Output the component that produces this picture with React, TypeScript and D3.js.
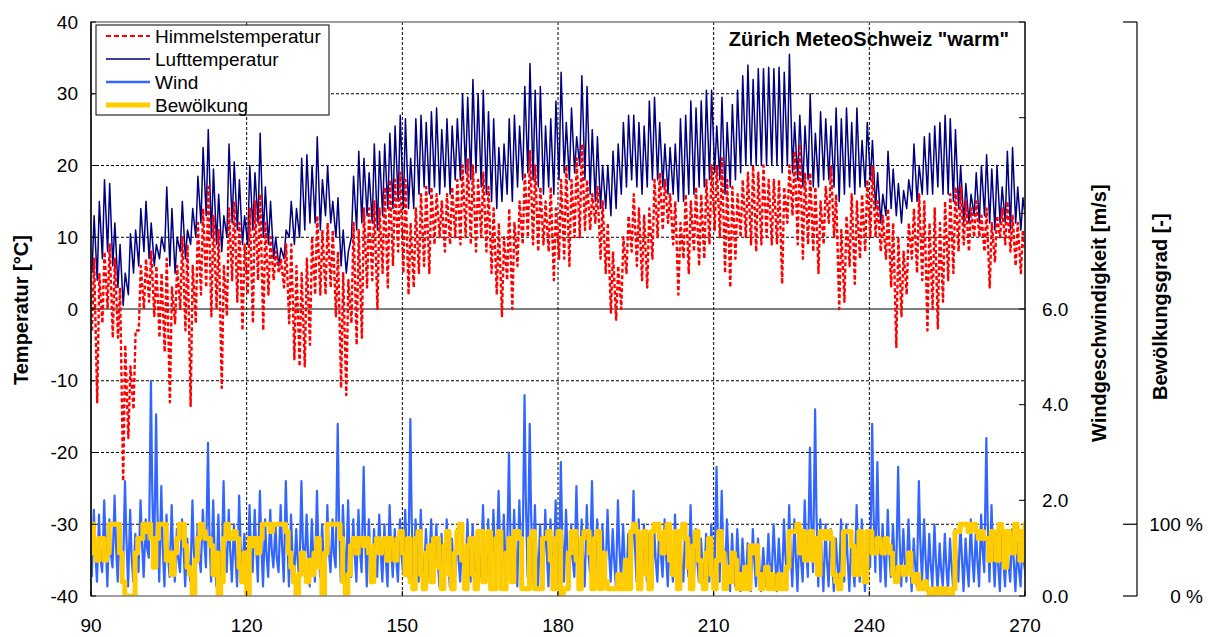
import React from "react";
import * as d3 from "d3";

// ---------- data (one value per day, day 90 .. 270) ----------
const START_DAY = 90;
const xTicks = [90, 120, 150, 180, 210, 240, 270];
const tempTicks = [-40, -30, -20, -10, 0, 10, 20, 30, 40];
const windTicks = [0, 2, 4, 6, 8, 10, 12];
const windLabelTicks = [0, 2, 4, 6];
const cloudLabelTicks = [0, 1];

const airMax = [
  13, 15, 18, 17.5, 12, 9, 5, 10.5, 11, 14, 15, 12, 9, 10, 17, 14, 10, 15, 11, 14, 18.5, 22.5, 25, 19.5, 16, 13, 23, 20.5, 18, 13, 20,
  19, 24.5, 17, 15, 10, 8.5, 11, 15, 14, 21, 21.5, 20, 24, 18, 20, 15, 15.5, 11, 8, 18.5, 22, 21, 19, 23, 22, 23, 24.5, 25.5, 27, 26.5,
  21, 26.5, 27, 26, 27.5, 28, 25, 26.5, 25.5, 26.5, 30, 29.5, 32, 30, 30.5, 27.5, 26.5, 22.5, 23, 26.5, 27, 25.5, 31, 34.2, 30.5, 31, 25.5, 26.5, 29, 33,
  26, 28, 24, 32.5, 31, 25, 24, 20, 20, 22, 23, 26, 27, 27, 26, 25.5, 29, 29.5, 26, 23, 22.5, 23, 26.5, 27, 29, 28, 29, 30.5, 30.5, 25.5,
  29.5, 26, 28.5, 30.5, 32.5, 34, 32, 33.5, 33.5, 33.7, 33.5, 33.7, 33, 35.5, 26, 27, 25.5, 30, 24.5, 27.5, 26.5, 25.5, 28, 26.5, 28, 26, 28, 23.5, 26, 23.5,
  19, 16, 22, 19.5, 17.5, 16.5, 18, 23, 20, 24, 24.5, 25.5, 26, 27, 26.5, 25, 20, 17.5, 16, 19, 20, 21.5, 19.5, 20, 17, 22, 22.5, 17, 15.5, 18.5,
];
const airMin = [
  5, 4, 7, 8, 6, 3, 0.5, 2, 5, 6, 8, 7, 6, 7, 8, 6, 5, 8, 7, 9, 10, 12, 13, 10, 9, 8, 10, 12, 11, 9, 9,
  11, 12, 10, 9, 7, 6, 7, 10, 9, 10, 11, 12, 12, 11, 13, 12, 10, 6, 5, 10, 11, 12, 13, 12, 11, 13, 14, 14, 15, 14,
  14, 14, 16, 17, 16, 17, 16, 17, 16, 18, 18, 19, 18, 19, 17, 16, 15, 14, 15, 16, 15, 17, 18, 19, 18, 17, 16, 17, 16, 18,
  19, 18, 19, 20, 18, 16, 15, 14, 14, 13, 14, 16, 17, 18, 17, 16, 17, 18, 18, 17, 16, 16, 15, 15, 16, 16, 17, 17, 18, 19,
  18, 16, 17, 18, 19, 20, 20, 20, 20, 20, 20, 20, 19, 20, 19, 18, 17, 18, 17, 17, 18, 18, 17, 15, 16, 17, 16, 17, 17, 18,
  14, 12, 13, 14, 13, 12, 14, 15, 15, 16, 16, 16, 17, 16, 16, 15, 14, 12, 12, 13, 12, 13, 12, 11, 12, 12, 11, 12, 11, 12,
];
const skyMax = [
  7, 5, 8, 9, 7, 3, -5, -8, -3, 6, 7, 8, 6, 5, 7, 3, 6, 10, 9, 6, 12, 14, 17, 13, 11, 6, 14, 15, 12, 9, 14,
  15, 16, 12, 10, 8, 7, 9, 9, 6, 5, 7, 10, 13, 11, 12, 11, 8, 5, 4, 12, 11, 14, 14, 15, 14, 17, 18, 18, 19, 18,
  12, 14, 16, 17, 17, 16, 15, 16, 17, 18, 20, 21, 20, 18, 19, 17, 14, 12, 10, 14, 12, 15, 19, 22, 20, 17, 15, 17, 14, 18,
  20, 18, 21, 23, 18, 16, 17, 15, 12, 8, 6, 10, 13, 16, 14, 13, 14, 18, 19, 18, 16, 15, 12, 16, 15, 17, 16, 18, 20, 20,
  21, 18, 17, 16, 18, 19, 20, 19, 20, 18, 18, 18, 17, 20, 22, 23, 19, 19, 17, 15, 17, 20, 16, 11, 13, 16, 15, 16, 18, 20,
  15, 13, 14, 12, 10, 8, 12, 14, 16, 15, 12, 14, 12, 15, 16, 17, 17, 15, 14, 15, 13, 14, 12, 13, 14, 15, 13, 12, 11, 12,
];
const skyMin = [
  -3, -13, -2, 0, -4, -4, -24, -18, -14, -3, 0, 1, -1, -4, -6, -13, -2, 0, -3, -13.5, -2, 2, 3, -1, 0, -11, -1, 4, 1, -3, 2,
  -2, 4, -3, 2, 4, 5, 3, -2, -7, -8, -8, -5, 2, 2, 2, 3, -1, -11, -12, -2, -5, -4, 3, 4, 0, 5, 3, 6, 8, 5,
  2, 3, 5, 6, 5, 9, 10, 8, 9, 10, 9, 10, 9, 8, 10, 8, 5, 2, -1, 4, 0, 6, 9, 10, 9, 8, 9, 8, 4, 7,
  7, 6, 10, 10, 11, 11, 12, 7, 5, -0.5, -1.5, 0, 5, 8, 6, 4, 3, 7, 10, 11, 12, 9, 2, 7, 5, 8, 6, 7, 9, 11,
  10, 5, 3, 7, 10, 10, 9, 8, 9, 10, 9, 9, 3.5, 12, 13, 9, 7, 9, 8, 5, 9, 12, 10, 0, 1, 6, 3.5, 7, 8, 10,
  10, 8, 7, 3, -5.3, -1, 2, 7, 5, 4, -3, 0, -2.7, 1, 4, 5, 8, 9, 8, 10, 10, 8, 3, 6.5, 10, 9, 8, 6, 5, 7,
];
const windHi = [
  1.8, 1.7, 2.0, 1.6, 2.1, 1.5, 2.4, 1.8, 1.3, 2.0, 1.6, 4.5, 3.8, 2.3, 1.7, 1.9, 1.4, 1.6, 1.2, 2.0, 1.5, 1.8, 3.2, 2.0, 1.7, 2.4, 1.8, 1.5, 2.1, 1.3, 1.9,
  1.8, 2.2, 1.6, 1.8, 1.5, 1.9, 2.4, 1.7, 1.4, 2.4, 1.7, 1.6, 2.2, 1.5, 1.9, 1.6, 3.6, 1.9, 2.0, 1.6, 1.8, 2.7, 1.6, 1.4, 1.7, 1.5, 1.9, 1.4, 1.6, 1.8,
  3.7, 1.6, 1.8, 1.4, 1.6, 1.5, 1.3, 1.6, 1.2, 1.4, 1.3, 1.6, 1.5, 1.2, 1.9, 1.6, 1.8, 2.2, 1.7, 3.0, 1.8, 2.0, 4.2, 3.6, 1.9, 1.5, 1.8, 1.6, 2.0, 2.8,
  1.8, 1.5, 2.3, 1.6, 1.9, 2.4, 1.6, 1.5, 1.8, 1.4, 2.0, 1.5, 1.3, 2.2, 1.6, 1.5, 1.3, 1.4, 1.5, 1.6, 1.2, 1.7, 1.3, 1.5, 1.9, 1.4, 1.2, 1.3, 1.5, 2.7,
  2.2, 1.6, 1.3, 1.4, 1.2, 1.1, 1.4, 1.2, 1.0, 1.3, 1.5, 1.2, 1.6, 1.9, 1.6, 1.5, 2.0, 3.1, 3.9, 1.6, 1.5, 1.4, 1.2, 1.6, 1.5, 1.3, 1.9, 1.6, 1.3, 3.6,
  2.8, 1.5, 1.8, 1.5, 2.7, 1.4, 1.6, 1.2, 2.4, 1.6, 1.3, 1.5, 1.1, 1.3, 1.2, 1.4, 1.5, 1.2, 1.6, 1.4, 1.7, 3.3, 1.9, 1.3, 1.5, 1.2, 1.4, 1.1, 1.3, 3.3,
];
const windLo = [
  0.4, 0.3, 0.5, 0.2, 0.6, 0.3, 0.4, 0.2, 0.3, 0.5, 0.4, 0.8, 0.6, 0.3, 0.2, 0.4, 0.3, 0.5, 0.2, 0.3, 0.4, 0.5, 0.6, 0.3, 0.2, 0.4, 0.5, 0.3, 0.2, 0.4, 0.3,
  0.5, 0.3, 0.2, 0.4, 0.6, 0.5, 0.3, 0.2, 0.4, 0.3, 0.5, 0.2, 0.3, 0.4, 0.2, 0.5, 0.6, 0.3, 0.2, 0.4, 0.3, 0.5, 0.2, 0.3, 0.4, 0.3, 0.2, 0.4, 0.3, 0.5,
  0.4, 0.2, 0.3, 0.2, 0.4, 0.3, 0.2, 0.3, 0.2, 0.4, 0.3, 0.2, 0.3, 0.2, 0.4, 0.3, 0.2, 0.4, 0.3, 0.5, 0.3, 0.2, 0.6, 0.4, 0.3, 0.2, 0.3, 0.2, 0.4, 0.3,
  0.3, 0.2, 0.4, 0.3, 0.2, 0.5, 0.3, 0.2, 0.4, 0.3, 0.2, 0.3, 0.2, 0.4, 0.3, 0.2, 0.3, 0.2, 0.3, 0.4, 0.2, 0.3, 0.2, 0.3, 0.4, 0.2, 0.3, 0.2, 0.3, 0.4,
  0.3, 0.2, 0.1, 0.2, 0.1, 0.2, 0.1, 0.2, 0.1, 0.2, 0.3, 0.1, 0.2, 0.3, 0.2, 0.1, 0.3, 0.4, 0.5, 0.2, 0.1, 0.2, 0.1, 0.2, 0.3, 0.1, 0.2, 0.3, 0.1, 0.6,
  0.5, 0.3, 0.2, 0.4, 0.3, 0.2, 0.3, 0.1, 0.2, 0.3, 0.1, 0.2, 0.1, 0.2, 0.1, 0.2, 0.3, 0.1, 0.2, 0.3, 0.2, 0.5, 0.3, 0.2, 0.1, 0.2, 0.3, 0.1, 0.2, 0.4,
];
const windMid = [
  1.0, 0.8, 1.2, 0.9, 1.1, 0.7, 1.3, 0.9, 0.8, 1.2, 1.0, 2.2, 1.8, 1.1, 0.9, 1.0, 0.8, 1.1, 0.7, 1.0, 0.9, 1.2, 1.4, 1.0, 0.8, 1.1, 1.0, 0.9, 1.2, 0.8, 1.0,
  1.1, 1.2, 0.9, 1.0, 0.8, 1.1, 1.3, 0.9, 0.8, 1.2, 1.0, 0.9, 1.1, 0.8, 1.0, 0.9, 1.6, 1.1, 1.0, 0.9, 1.0, 1.3, 0.9, 0.8, 1.0, 0.8, 1.1, 0.8, 0.9, 1.0,
  1.6, 0.9, 1.0, 0.8, 0.9, 0.8, 0.7, 0.9, 0.7, 0.8, 0.7, 0.9, 0.8, 0.7, 1.0, 0.9, 1.0, 1.2, 0.9, 1.4, 1.0, 1.1, 2.0, 1.8, 1.0, 0.8, 1.0, 0.9, 1.1, 1.3,
  1.0, 0.8, 1.2, 0.9, 1.0, 1.2, 0.9, 0.8, 1.0, 0.8, 1.1, 0.8, 0.7, 1.1, 0.9, 0.8, 0.7, 0.8, 0.9, 0.9, 0.7, 1.0, 0.7, 0.8, 1.0, 0.8, 0.7, 0.7, 0.8, 1.3,
  1.1, 0.9, 0.7, 0.8, 0.7, 0.6, 0.8, 0.7, 0.6, 0.7, 0.9, 0.7, 0.9, 1.0, 0.9, 0.8, 1.1, 1.6, 1.8, 0.9, 0.8, 0.8, 0.7, 0.9, 0.8, 0.7, 1.0, 0.9, 0.7, 1.8,
  1.4, 0.9, 1.0, 0.9, 1.3, 0.8, 0.9, 0.7, 1.2, 0.9, 0.7, 0.8, 0.6, 0.7, 0.7, 0.8, 0.9, 0.7, 0.9, 0.8, 1.0, 1.6, 1.0, 0.7, 0.8, 0.7, 0.8, 0.6, 0.7, 1.6,
];
const cloudAM = [
  1.0, 0.5, 0.8, 0.6, 1.0, 1.0, 0.2, 0, 0, 0.8, 1.0, 1.0, 0.4, 1.0, 1.0, 0.6, 0.6, 1.0, 0.7, 0.3, 0.5, 1.0, 0.8, 0.7, 0.6, 0.2, 1.0, 0.8, 0.8, 0.2, 0,
  0.7, 0.6, 1.0, 1.0, 1.0, 1.0, 1.0, 0.6, 0.2, 0.3, 0.4, 0.5, 0.6, 0.4, 0.6, 1.0, 1.0, 0.8, 0, 0.7, 0.6, 0.8, 0.8, 0.2, 0.8, 0.7, 0.5, 0.7, 0.8, 0.6,
  0.8, 0.1, 0.9, 0.1, 0.7, 0.8, 0.4, 0.7, 0.3, 0.6, 1.0, 0.1, 0.8, 0.1, 0.9, 0.6, 0.1, 0.8, 0.1, 0.6, 0.2, 0.9, 0.1, 0.1, 0.9, 0.1, 0.8, 0.9, 0.1, 0.9,
  0.1, 0.6, 0.9, 0.1, 0.9, 0.6, 0.8, 0.1, 0.2, 0.1, 0.1, 0.1, 0.5, 0.9, 0.9, 0.7, 0.3, 0.9, 1.0, 0.6, 1.0, 0.3, 0.1, 1.0, 0.4, 0.7, 0.5, 0.1, 0.8, 0.1,
  0.9, 0.1, 0.2, 0.5, 0.3, 0.4, 0.7, 0.7, 0.1, 0.4, 0.3, 0.1, 0.1, 0.4, 0.9, 1.0, 0.9, 0.7, 0.5, 0.3, 0.9, 0.9, 0.3, 0.1, 0.9, 0.9, 0.3, 0.9, 0.2, 0.9,
  0.6, 0.7, 0.8, 0.6, 0.2, 0.4, 0.4, 0.3, 0.3, 0.1, 0.1, 0, 0, 0, 0, 0.1, 0.9, 1.0, 0.9, 1.0, 0.8, 0.8, 0.5, 0.8, 1.0, 0.4, 0.8, 1.0, 0.5, 1.0,
];
const cloudPM = [
  0.6, 0.8, 0.5, 1.0, 1.0, 0.6, 0, 0, 0.6, 0.8, 0.9, 0.8, 0.8, 1.0, 0.5, 0.3, 0.8, 1.0, 0.4, 0, 0.8, 0.9, 0.8, 0.3, 0, 0.8, 0.8, 0.9, 0.4, 0.6, 0.8,
  0.8, 0.8, 1.0, 0.9, 1.0, 1.0, 0.9, 0.4, 0, 0.6, 0.2, 0.3, 0.8, 0, 1.0, 1.0, 1.0, 0.2, 0.3, 0.8, 0.8, 0.7, 0.6, 0.7, 0.6, 0.8, 0.8, 0.5, 0.9, 0.3,
  0.2, 0.8, 0.3, 0.6, 0.2, 0.8, 0.1, 0.9, 0.1, 0.9, 0.5, 0.7, 0.3, 0.9, 0.2, 0.9, 0.1, 0.9, 0.1, 0.8, 0.9, 0.8, 0.1, 0.8, 0.1, 0.1, 0.8, 0.5, 0.8, 0,
  0.1, 0.9, 0.5, 0.8, 0.9, 0.1, 0.9, 0.6, 0.1, 0.1, 0.3, 0.1, 0.1, 1.0, 0.1, 0.9, 0.1, 1.0, 0.8, 0.9, 0.5, 0.9, 0.9, 0.8, 0.1, 0.9, 0.2, 0.6, 0.3, 0.5,
  0.6, 0.4, 0.6, 0.1, 0.1, 0.1, 0.6, 0.3, 0.3, 0.1, 0.1, 0.3, 0.1, 0.9, 0.9, 0.6, 0.5, 0.9, 0.8, 0.9, 0.8, 0.8, 0.2, 0.3, 0.9, 0.7, 0.3, 0.6, 0.9, 0.6,
  0.8, 0.6, 0.7, 0.3, 0.4, 0.3, 0.6, 0.2, 0.1, 0.2, 0, 0.1, 0.1, 0.1, 0, 0.9, 1.0, 1.0, 1.0, 0.9, 0.9, 0.8, 0.9, 0.5, 0.9, 0.9, 0.6, 0.9, 0.9, 1.0,
];

const legendItems = [
  { label: "Himmelstemperatur", color: "#FF0000", width: 2, dash: "5,3" },
  { label: "Lufttemperatur", color: "#000080", width: 1.3, dash: "" },
  { label: "Wind", color: "#3366FF", width: 2.5, dash: "" },
  { label: "Bewölkung", color: "#FFCC00", width: 5, dash: "" },
];

type P = { t: number; v: number };

export default function App() {
  const L = 91, R = 1025, T = 22, B = 596;
  const x = d3.scaleLinear().domain([90, 270]).range([L, R]);
  const yT = d3.scaleLinear().domain([-40, 40]).range([B, T]);
  const yW = d3.scaleLinear().domain([0, 12]).range([B, T]);
  const yC = d3.scaleLinear().domain([0, 8]).range([B, T]);

  const airPts: P[] = [];
  const skyPts: P[] = [];
  const windPts: P[] = [];
  const cloudPts: P[] = [];
  airMax.forEach((_, i) => {
    const d = START_DAY + i;
    airPts.push({ t: d + 0.2, v: airMin[i] }, { t: d + 0.6, v: airMax[i] });
    skyPts.push({ t: d + 0.2, v: skyMin[i] }, { t: d + 0.6, v: skyMax[i] });
    windPts.push({ t: d + 0.15, v: windLo[i] }, { t: d + 0.55, v: windHi[i] }, { t: d + 0.8, v: windMid[i] });
    cloudPts.push({ t: d, v: cloudAM[i] }, { t: d + 0.5, v: cloudPM[i] });
  });

  const lineT = d3.line<P>().x((p) => x(p.t)).y((p) => yT(p.v));
  const lineW = d3.line<P>().x((p) => x(p.t)).y((p) => yW(p.v));
  const lineC = d3.line<P>().x((p) => x(p.t)).y((p) => yC(p.v)).curve(d3.curveStepAfter);

  const font = "Arial, 'Liberation Sans', sans-serif";
  const gridDash = "3,2";

  return (
    <svg width={1214} height={637} style={{ position: "absolute", left: 0, top: 0, background: "#fff" }} fontFamily={font}>
      <defs>
        <clipPath id="plotClip">
          <rect x={L} y={T} width={R - L} height={B - T} />
        </clipPath>
      </defs>
      <rect x={0} y={0} width={1214} height={637} fill="#fff" />

      {/* grid */}
      {tempTicks.filter((v) => v !== 0 && v !== 40 && v !== -40).map((v) => (
        <line key={"gh" + v} x1={L} x2={R} y1={yT(v)} y2={yT(v)} stroke="#000" strokeWidth={1} strokeDasharray={gridDash} />
      ))}
      {xTicks.filter((v) => v !== 90 && v !== 270).map((v) => (
        <line key={"gv" + v} x1={x(v)} x2={x(v)} y1={T} y2={B} stroke="#000" strokeWidth={1} strokeDasharray={gridDash} />
      ))}
      <line x1={L} x2={R} y1={yT(0)} y2={yT(0)} stroke="#000" strokeWidth={1.2} />

      {/* series */}
      <g clipPath="url(#plotClip)" fill="none" strokeLinejoin="round">
        <path d={lineT(airPts) || ""} stroke="#000080" strokeWidth={1.5} />
        <path d={lineT(skyPts) || ""} stroke="#FF0000" strokeWidth={2.4} strokeDasharray="4,2.5" />
        <path d={lineW(windPts) || ""} stroke="#3366FF" strokeWidth={2.2} />
        <path d={lineC(cloudPts) || ""} stroke="#FFCC00" strokeWidth={5} />
      </g>

      {/* frame */}
      <rect x={L} y={T} width={R - L} height={B - T} fill="none" stroke="#808080" strokeWidth={1.5} />
      <line x1={L} x2={L} y1={T} y2={B} stroke="#000" strokeWidth={1.5} />
      <line x1={R} x2={R} y1={T} y2={B} stroke="#000" strokeWidth={1.2} />

      {/* left axis */}
      {tempTicks.map((v) => (
        <g key={"lt" + v}>
          <line x1={L} x2={L + 5} y1={yT(v)} y2={yT(v)} stroke="#000" />
          <text x={78} y={yT(v)} dy="0.35em" textAnchor="end" fontSize={19}>{v}</text>
        </g>
      ))}
      {/* bottom axis */}
      {xTicks.map((v) => (
        <g key={"bt" + v}>
          <line x1={x(v)} x2={x(v)} y1={B} y2={B - 5} stroke="#000" />
          <text x={x(v)} y={632} textAnchor="middle" fontSize={19}>{v}</text>
        </g>
      ))}
      {/* wind axis */}
      {windTicks.map((v) => (
        <line key={"wt" + v} x1={R - 6} x2={R} y1={yW(v)} y2={yW(v)} stroke="#000" />
      ))}
      {windLabelTicks.map((v) => (
        <text key={"wl" + v} x={1042} y={yW(v)} dy="0.35em" fontSize={19}>{v.toFixed(1)}</text>
      ))}
      {/* cloud axis */}
      <line x1={1137} x2={1137} y1={yC(8)} y2={yC(0)} stroke="#000" strokeWidth={1.2} />
      {[0, 1, 8].map((v) => (
        <line key={"ct" + v} x1={1123} x2={1137} y1={yC(v)} y2={yC(v)} stroke="#000" strokeWidth={1.2} />
      ))}
      {cloudLabelTicks.map((v) => (
        <text key={"cl" + v} x={1203} y={yC(v)} dy="0.35em" textAnchor="end" fontSize={19}>{`${v * 100} %`}</text>
      ))}

      {/* axis titles */}
      <text transform="translate(28,385) rotate(-90)" fontSize={20} fontWeight="bold">Temperatur [°C]</text>
      <text transform="translate(1106,442) rotate(-90)" fontSize={20} fontWeight="bold">Windgeschwindigkeit [m/s]</text>
      <text transform="translate(1167,400) rotate(-90)" fontSize={20} fontWeight="bold">Bewölkungsgrad [-]</text>

      {/* title */}
      <text x={1009} y={46} textAnchor="end" fontSize={20} fontWeight="bold">Zürich MeteoSchweiz "warm"</text>

      {/* legend */}
      <rect x={96} y={25} width={233} height={90} fill="#fff" stroke="#000" strokeWidth={1} />
      {legendItems.map((it, i) => {
        const yy = 36 + i * 23;
        return (
          <g key={it.label}>
            <line x1={106} x2={150} y1={yy} y2={yy} stroke={it.color} strokeWidth={it.width} strokeDasharray={it.dash || undefined} />
            <text x={155} y={yy} dy="0.35em" fontSize={19}>{it.label}</text>
          </g>
        );
      })}
    </svg>
  );
}
